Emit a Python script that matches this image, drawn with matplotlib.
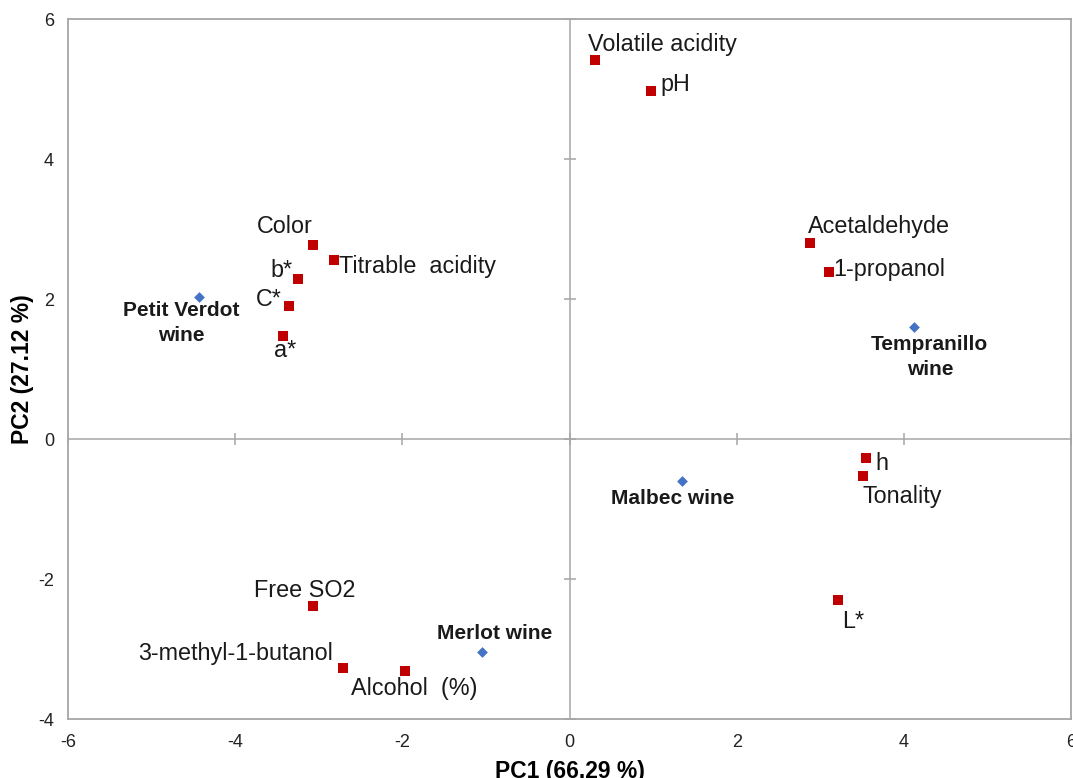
import matplotlib
matplotlib.use("Agg")
import matplotlib.pyplot as plt

plt.rcParams['font.family'] = ['Liberation Sans', 'DejaVu Sans']

# Variables (red squares)
var_names = ["Volatile acidity", "pH", "Color", "Titrable  acidity", "b*", "C*", "a*",
             "Acetaldehyde", "1-propanol", "h", "Tonality", "L*",
             "Free SO2", "3-methyl-1-butanol", "Alcohol  (%)"]
var_pc1 = [0.31, 0.98, -3.07, -2.82, -3.25, -3.35, -3.43,
           2.88, 3.11, 3.55, 3.51, 3.21,
           -3.07, -2.71, -1.97]
var_pc2 = [5.41, 4.97, 2.77, 2.56, 2.29, 1.90, 1.47,
           2.80, 2.39, -0.27, -0.53, -2.30,
           -2.39, -3.27, -3.31]

# Wines (blue diamonds)
wine_names = ["Petit Verdot\nwine", "Tempranillo\nwine", "Malbec wine", "Merlot wine"]
wine_pc1 = [-4.43, 4.12, 1.35, -1.05]
wine_pc2 = [2.03, 1.60, -0.60, -3.04]

x_ticks = [-6, -4, -2, 0, 2, 4, 6]
y_ticks = [-4, -2, 0, 2, 4, 6]

# label offsets in pixels (dx, dy) and alignment
var_off = [(-7, 16, 'left'), (9, 7, 'left'), (-28, 19, 'center'), (5, -7, 'left'),
           (-5, 8, 'right'), (-8, 6, 'right'), (2, -14, 'center'),
           (-2, 17, 'left'), (4, 2, 'left'), (9, -6, 'left'), (0, -20, 'left'), (4, -21, 'left'),
           (-8, 16, 'center'), (-10, 14, 'right'), (-54, -18, 'left')]
wine_off = [(-18, -26, 'center'), (16, -30, 'center'), (-10, -18, 'center'), (13, 18, 'center')]

fig = plt.figure(figsize=(10.73, 7.78), dpi=100)
ax = fig.add_axes([68/1073, 1-719/778, (1071-68)/1073, (719-19)/778])
ax.set_xlim(-6, 6)
ax.set_ylim(-4, 6)

gray = '#a6a6a6'
for s in ax.spines.values():
    s.set_color(gray)
    s.set_linewidth(1.3)

ax.axhline(0, color=gray, lw=1.1, zorder=1)
ax.axvline(0, color=gray, lw=1.1, zorder=1)
ax.plot(x_ticks, [0]*len(x_ticks), ls='none', marker='|', ms=9, mew=1.1, color=gray, zorder=1)
ax.plot([0]*len(y_ticks), y_ticks, ls='none', marker='_', ms=9, mew=1.1, color=gray, zorder=1)

ax.set_xticks(x_ticks)
ax.set_yticks(y_ticks)
ax.set_xticklabels([str(t) for t in x_ticks])
ax.set_yticklabels([str(t) for t in y_ticks])
ax.tick_params(axis='both', length=0, labelsize=13, colors='#222222')
ax.tick_params(axis='x', pad=11)
ax.tick_params(axis='y', pad=10)

ax.scatter(var_pc1, var_pc2, marker='s', s=55, color='#c00000', zorder=3, linewidths=0)
ax.scatter(wine_pc1, wine_pc2, marker='D', s=30, color='#4472c4', zorder=3, linewidths=0)

for n, x, y, (dx, dy, ha) in zip(var_names, var_pc1, var_pc2, var_off):
    ax.annotate(n, (x, y), xytext=(dx*0.72, dy*0.72), textcoords='offset points',
                ha=ha, va='center', fontsize=16.8, color='#1a1a1a')
for n, x, y, (dx, dy, ha) in zip(wine_names, wine_pc1, wine_pc2, wine_off):
    ax.annotate(n, (x, y), xytext=(dx*0.72, dy*0.72), textcoords='offset points',
                ha=ha, va='center', fontsize=15, fontweight='bold', color='#1a1a1a',
                linespacing=1.4)

ax.set_xlabel("PC1 (66.29 %)", fontsize=16.5, fontweight='bold', labelpad=6)
ax.set_ylabel("PC2 (27.12 %)", fontsize=16.5, fontweight='bold', labelpad=3)

fig.savefig("out.png", dpi=100)
